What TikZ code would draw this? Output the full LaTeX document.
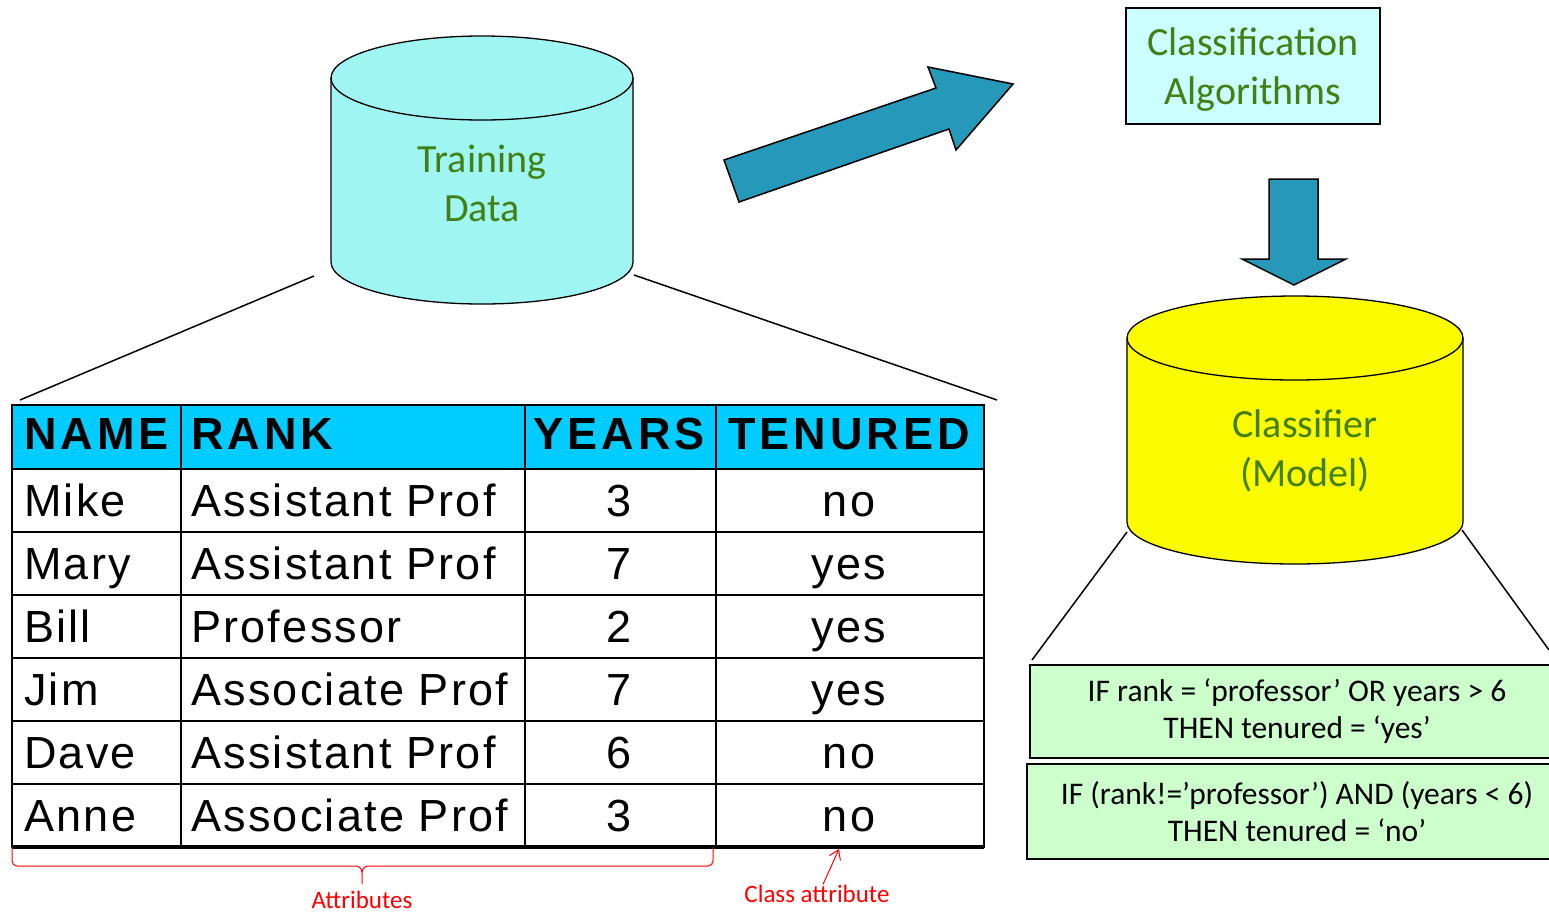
\documentclass[tikz,border=0pt]{standalone}
\usepackage{fontspec}
\setmainfont{Carlito}
\newfontfamily\tabfont[LetterSpace=5]{Liberation Sans}
\newfontfamily\headfont[LetterSpace=9]{Liberation Sans}
\usepackage{tikz}
\usetikzlibrary{arrows.meta,positioning}
\definecolor{tdcyan}{RGB}{159,245,242}
\definecolor{algcyan}{RGB}{204,255,255}
\definecolor{hdrblue}{RGB}{0,204,255}
\definecolor{arrblue}{RGB}{38,152,185}
\definecolor{labgreen}{RGB}{66,128,20}
\definecolor{rulegreen}{RGB}{204,255,204}
\definecolor{clyellow}{RGB}{250,250,0}

\begin{document}
\begin{tikzpicture}[
  x=1pt, y=1pt,
  lbl/.style={text=labgreen, font=\fontsize{40}{49}\selectfont, align=center, inner sep=0pt},
  cyl/.style={draw, line width=1.3pt},
  blk/.style={draw, line width=1.5pt, fill=arrblue, line join=miter},
  link/.style={line width=1.5pt},
  grid/.style={line width=2.2pt},
  headtxt/.style={font=\headfont\bfseries\fontsize{45}{54}\selectfont, inner sep=0pt, anchor=base},
  celltxt/.style={font=\tabfont\fontsize{45}{54}\selectfont, inner sep=0pt, anchor=base},
  rule/.style={draw, line width=1.5pt, fill=rulegreen, font=\fontsize{31.5}{37}\selectfont, align=center, inner sep=0pt},
  note/.style={red, line width=1pt},
  notetxt/.style={text=red, font=\fontsize{25}{29}\selectfont, inner sep=0pt, anchor=base}
]
\useasboundingbox (0,0) rectangle (1549,-914);
\clip (0,0) rectangle (1549,-914);

% training data
\path[cyl, fill=tdcyan] (331,-78) -- (331,-262) arc[start angle=180, end angle=360, x radius=151pt, y radius=42pt]
  -- (633,-78) arc[start angle=0, end angle=180, x radius=151pt, y radius=42pt] -- cycle;
\draw[cyl] (331,-78) arc[start angle=180, end angle=360, x radius=151pt, y radius=42pt];
\node[lbl] (train) at (482,-183) {Training\\Data};

% classifier
\path[cyl, fill=clyellow] (1127,-338) -- (1127,-522) arc[start angle=180, end angle=360, x radius=168pt, y radius=42pt]
  -- (1463,-338) arc[start angle=0, end angle=180, x radius=168pt, y radius=42pt] -- cycle;
\draw[cyl] (1127,-338) arc[start angle=180, end angle=360, x radius=168pt, y radius=42pt];
\node[lbl] (model) at (1305,-451) {Classifier\\(Model)};

% algorithms box
\draw[line width=1.5pt, fill=algcyan] (1126,-8) rectangle (1380,-124);
\node[lbl] (algo) at (1253,-70) {Classification\\Algorithms};

% block arrows
\draw[blk] (724,-160) -- (936,-88) -- (928,-67) -- (1013,-84) -- (956,-150) -- (949,-129) -- (739,-202) -- cycle;
\draw[blk] (1269,-179) -- (1318,-179) -- (1318,-259) -- (1346,-259) -- (1294,-285) -- (1242,-259) -- (1269,-259) -- cycle;

% table
\fill[hdrblue] (12,-405) rectangle (984,-469);
\foreach \y in {469,532,595,658,721,784}
  \draw[grid] (12,-\y) -- (984,-\y);
\foreach \x in {181,525,716}
  \draw[grid] (\x,-405) -- (\x,-847);
\draw[grid] (12,-405) rectangle (984,-847);
\draw[line width=4pt] (12,-847) -- (984,-847);

\node[headtxt, anchor=base west] (hname) at (24,-449) {NAME};
\node[headtxt, anchor=base west] (hrank) at (191,-449) {RANK};
\node[headtxt] (hyears) at (619,-449) {YEARS};
\node[headtxt] (htenured) at (849,-449) {TENURED};
\foreach \nm/\rk/\yr/\tn [count=\i] in {Mike/Assistant Prof/3/no, Mary/Assistant Prof/7/yes,
    Bill/Professor/2/yes, Jim/Associate Prof/7/yes, Dave/Assistant Prof/6/no, Anne/Associate Prof/3/no}{
  \node[celltxt, anchor=base west] (name\i) at (24,{-453-63*\i}) {\nm};
  \node[celltxt, anchor=base west] (rank\i) at (191,{-453-63*\i}) {\rk};
  \node[celltxt] (years\i) at (619,{-453-63*\i}) {\yr};
  \node[celltxt] (ten\i) at (849,{-453-63*\i}) {\tn};
}

% zoom lines
\coordinate (tdL) at (314,-276);
\coordinate (tdR) at (634,-275);
\coordinate (tabL) at (20,-400);
\coordinate (tabR) at (997,-400);
\coordinate (clL) at (1127,-532);
\coordinate (clR) at (1462,-530);
\coordinate (ruleL) at (1032,-660);
\coordinate (ruleR) at (1549,-650);
\draw[link] (tdL) -- (tabL);
\draw[link] (tdR) -- (tabR);
\draw[link] (clL) -- (ruleL);
\draw[link] (clR) -- (ruleR);

% rules
\node[rule, minimum width=534pt, minimum height=93pt] (rule1) at (1297,-711.5) {IF rank = ‘professor’ OR years > 6\\THEN tenured = ‘yes’};
\node[rule, minimum width=540pt, minimum height=95pt] (rule2) at (1297,-811.5) {IF (rank!=’professor’) AND (years < 6)\\THEN tenured = ‘no’};

% notes
\draw[note] (12,-847) -- (12,-861) to[out=-90,in=180] (17,-866) -- (356,-866) to[out=0,in=90] (362,-873) -- (362,-884)
  (362,-873) to[out=90,in=180] (368,-866) -- (708,-866) to[out=0,in=-90] (713,-861) -- (713,-847);
\node[notetxt] (attr) at (362,-908) {Attributes};
\node[notetxt] (clsatt) at (817,-902) {Class attribute};
\coordinate (tenbot) at (839,-849);
\draw[note, -{Straight Barb[length=9pt, width=12pt]}] ([xshift=6pt]clsatt.north) -- (tenbot);
\end{tikzpicture}
\end{document}
